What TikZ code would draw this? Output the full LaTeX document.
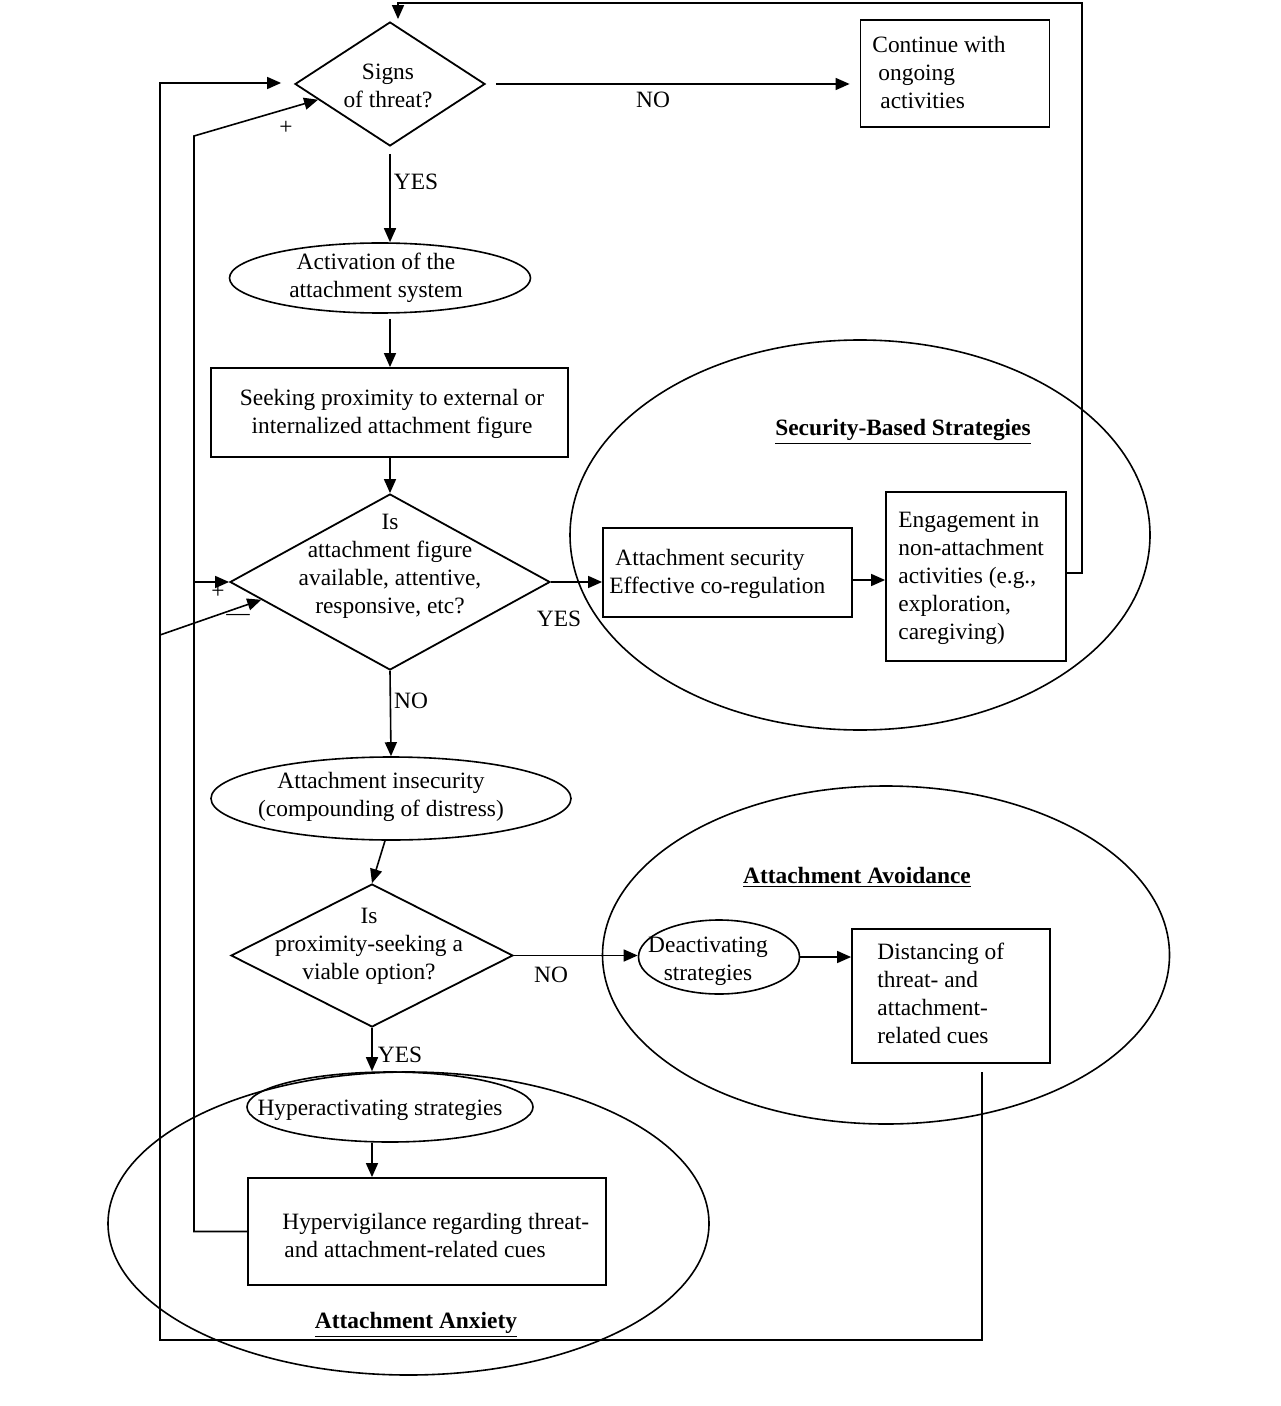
\documentclass[tikz,border=0pt]{standalone}
\usepackage{fontspec}
\setmainfont{Liberation Serif}
\usetikzlibrary{shapes.geometric,arrows.meta,calc}
\begin{document}
\begin{tikzpicture}[x=0.5pt,y=-0.5pt,
  every node/.style={font=\fontsize{11.7}{14}\selectfont},
  box/.style={draw,line width=0.9pt,rectangle,inner sep=0pt},
  dia/.style={draw,line width=0.9pt,diamond,inner sep=0pt},
  ell/.style={draw,line width=0.8pt,ellipse,inner sep=0pt},
  grp/.style={draw,line width=0.8pt,ellipse,inner sep=0pt},
  txt/.style={align=center,inner sep=0pt},
  ltxt/.style={align=left,inner sep=0pt,anchor=west},
  conn/.style={line width=0.8pt},
  arr/.style={conn,-{Triangle[length=7pt,width=6pt]}},
  lab/.style={inner sep=0pt},
  grptitle/.style={inner sep=0pt,font=\fontsize{11.7}{14}\selectfont\bfseries}
]
\useasboundingbox (0,0) rectangle (1280,1406);

% group ellipses
\node[grp,minimum width=290pt,minimum height=195pt] (gsec) at (860,535) {};
\node[grp,minimum width=283.5pt,minimum height=169pt] (gavo) at (886,955) {};
\node[grp,minimum width=300.5pt,minimum height=151.5pt] (ganx) at (408.5,1223.5) {};
\node[grptitle] (tsec) at (903,432) {\underline{Security-Based Strategies}};
\node[grptitle] (tavo) at (857,877) {\underline{Attachment Avoidance}};
\node[grptitle] (tanx) at (416,1325) {\underline{Attachment Anxiety}};

% shapes
\node[dia,minimum width=95pt,minimum height=62pt] (signs) at (390,84) {};
\node[txt] (signsT) at (388,86) {Signs\\of threat?};
\node[box,minimum width=94.5pt,minimum height=53.5pt] (cont) at (955,73.5) {};
\node[ltxt] (contT) at (872,73) {Continue with\\\hspace{3pt}ongoing\\\hspace{4pt}activities};
\node[ell,minimum width=150.5pt,minimum height=35pt] (act) at (380,278) {};
\node[txt] (actT) at (376,278) {Activation of the\\attachment system};
\node[box,minimum width=178.5pt,minimum height=44.5pt] (seek) at (389.5,412.5) {};
\node[txt] (seekT) at (392,414) {Seeking proximity to external or\\internalized attachment figure};
\node[dia,minimum width=160pt,minimum height=88pt] (avail) at (390,582) {};
\node[txt] (availT) at (390,566) {Is\\attachment figure\\available, attentive,\\responsive, etc?};
\node[box,minimum width=124.5pt,minimum height=44.5pt] (sec) at (727.5,572.5) {};
\node[ltxt] (secT) at (609,574) {\hspace{3pt}Attachment security\\Effective co-regulation};
\node[box,minimum width=90pt,minimum height=84.5pt] (eng) at (976,576.5) {};
\node[ltxt] (engT) at (898,578) {Engagement in\\non-attachment\\activities (e.g.,\\exploration,\\caregiving)};
\node[ell,minimum width=180pt,minimum height=41.5pt] (insec) at (391,798.5) {};
\node[txt] (insecT) at (381,797) {Attachment insecurity\\(compounding of distress)};
\node[dia,minimum width=141pt,minimum height=71.5pt] (prox) at (372,955.5) {};
\node[txt] (proxT) at (369,946) {Is\\proximity-seeking a\\viable option?};
\node[ell,minimum width=80.5pt,minimum height=37pt] (deact) at (719,957) {};
\node[txt] (deactT) at (708,961) {Deactivating\\strategies};
\node[box,minimum width=99pt,minimum height=67pt] (dist) at (951,996) {};
\node[ltxt] (distT) at (877,993.5) {Distancing of\\threat- and\\attachment-\\related cues};
\node[ell,minimum width=143pt,minimum height=35pt] (hyper) at (390,1107) {};
\node[txt] (hyperT) at (380,1110) {Hyperactivating strategies};
\node[box,minimum width=179pt,minimum height=53.5pt] (hyv) at (427,1231.5) {};
\node[ltxt] (hyvT) at (282,1235) {Hypervigilance regarding threat-\\\hspace{1pt}and attachment-related cues};

% labels
\node[lab] (l1) at (653,100) {NO};
\node[lab] (l2) at (416,182) {YES};
\node[lab] (l3) at (559,619) {YES};
\node[lab] (l4) at (411,701) {NO};
\node[lab] (l5) at (551,975) {NO};
\node[lab] (l6) at (400,1055) {YES};
\node[lab] (p1) at (286,128) {+};
\node[lab] (p2) at (218,592) {+};
\node[lab] (m1) at (238,617) {\textemdash};

% connectors
\draw[arr,shorten <=5pt,shorten >=5pt] (signs.east) -- (signs.east -| cont.west);
\draw[arr,shorten <=3.5pt] (signs.south) -- (signs.south |- act.north);
\draw[arr,shorten <=2.5pt] (signs.south |- act.south) -- (signs.south |- seek.north);
\draw[arr] (seek.south -| avail.north) -- (avail.north);
\draw[arr] (avail.east) -- (avail.east -| sec.west);
\draw[arr] (sec.east |- 0,580) -- (eng.west |- 0,580);
\draw[arr] (avail.south) -- (insec.north);
\draw[arr] ([xshift=-3pt]insec.south) -- (prox.north);
\draw[arr] (prox.east) -- (prox.east -| deact.west);
\draw[arr] (deact.east) -- (deact.east -| dist.west);
\draw[arr] (prox.south) -- (prox.south |- hyper.north);
\draw[arr] (prox.south |- hyper.south) -- (prox.south |- hyv.north);

% feedback: engagement back to signs of threat
\coordinate (topR) at (1082,3);
\draw[arr] ([yshift=1.75pt]eng.east) -| (topR) -| ([xshift=4pt,yshift=1pt]signs.north);

% feedback: avoidance
\coordinate (r1) at (982,1072);
\coordinate (r2) at (160,1340);
\coordinate (r3) at (160,83);
\coordinate (rb) at (160,635);
\draw[arr,shorten >=6.5pt] (r1) |- (r2) -- (r3) -- (r3 -| signs.west);
\draw[arr] (rb) -- ($(avail.west)!0.2!(avail.south)$);

% feedback: anxiety
\coordinate (a1) at (194,136);
\coordinate (ab) at (194,582);
\draw[arr] (hyv.west) -| (a1) -- ($(signs.west)!0.25!(signs.south)$);
\draw[arr] (ab) -- (avail.west);
\end{tikzpicture}
\end{document}
